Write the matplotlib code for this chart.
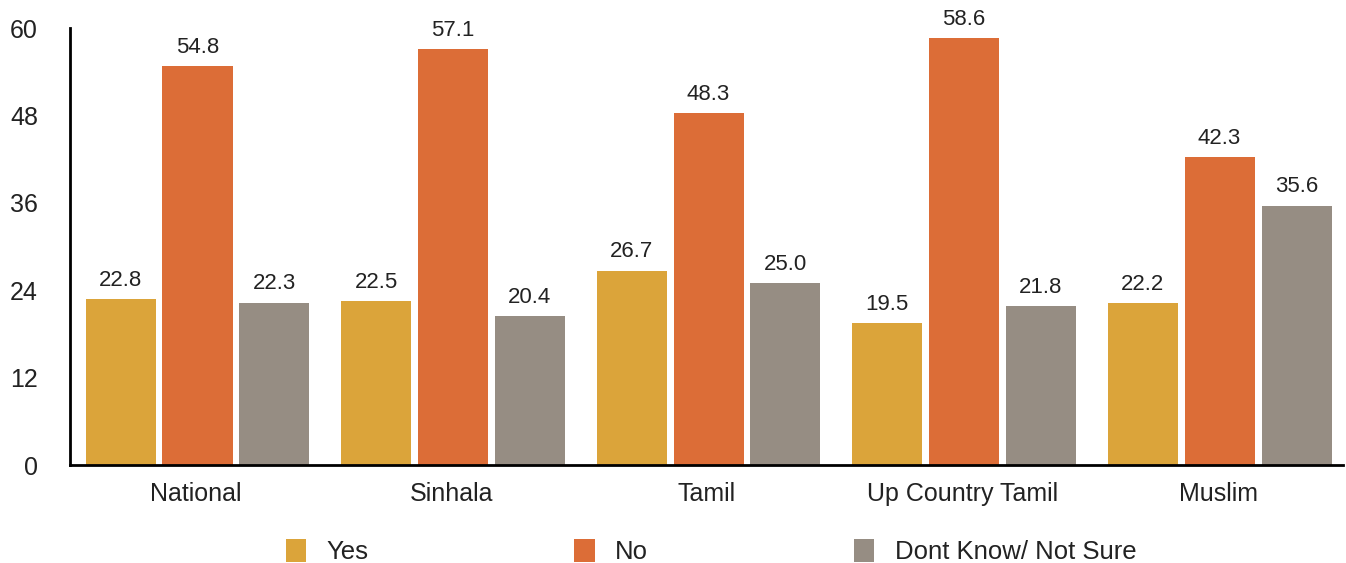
import numpy as np
from matplotlib import pyplot as plt

# Data
categories = ['National', 'Sinhala', 'Tamil', 'Up Country Tamil', 'Muslim']
yes_vals = [22.8, 22.5, 26.7, 19.5, 22.2]
no_vals = [54.8, 57.1, 48.3, 58.6, 42.3]
dk_vals = [22.3, 20.4, 25.0, 21.8, 35.6]
series_names = ['Yes', 'No', 'Dont Know/ Not Sure']
colors = ['#DBA43A', '#DC6D37', '#968D83']

plt.rcParams['font.family'] = ['Liberation Sans', 'DejaVu Sans']
text_color = '#222222'

fig = plt.figure(figsize=(13.46, 5.63), dpi=100)
ax = fig.add_axes([0.052, 0.174, 0.9458, 0.776])

x = np.arange(len(categories))
width = 0.274
offset = 0.301

for i, (vals, name, col) in enumerate(zip([yes_vals, no_vals, dk_vals], series_names, colors)):
    bars = ax.bar(x + (i - 1) * offset + 0.006, vals, width, color=col, label=name)
    ax.bar_label(bars, labels=[f'{v:.1f}' for v in vals], padding=6,
                 fontsize=16, color=text_color)

ax.set_ylim(0, 60)
ax.set_xlim(-0.493, 4.489)
ax.set_yticks(np.arange(0, 61, 12))
ax.set_xticks(x)
ax.set_xticklabels(categories)
ax.tick_params(axis='y', length=0, pad=23, labelsize=18, labelcolor=text_color)
ax.tick_params(axis='x', length=0, pad=12, labelsize=18, labelcolor=text_color)

for s in ['top', 'right']:
    ax.spines[s].set_visible(False)
for s in ['left', 'bottom']:
    ax.spines[s].set_linewidth(2)
    ax.spines[s].set_color('black')

leg = fig.legend(loc='center left', bbox_to_anchor=(0.2045, 0.021), ncol=3,
                 frameon=False, fontsize=18.5, handlelength=0.8, handleheight=1.0,
                 handletextpad=0.8, columnspacing=8.0, borderaxespad=0)
for t in leg.get_texts():
    t.set_color(text_color)

plt.savefig('out.png', dpi=100)
